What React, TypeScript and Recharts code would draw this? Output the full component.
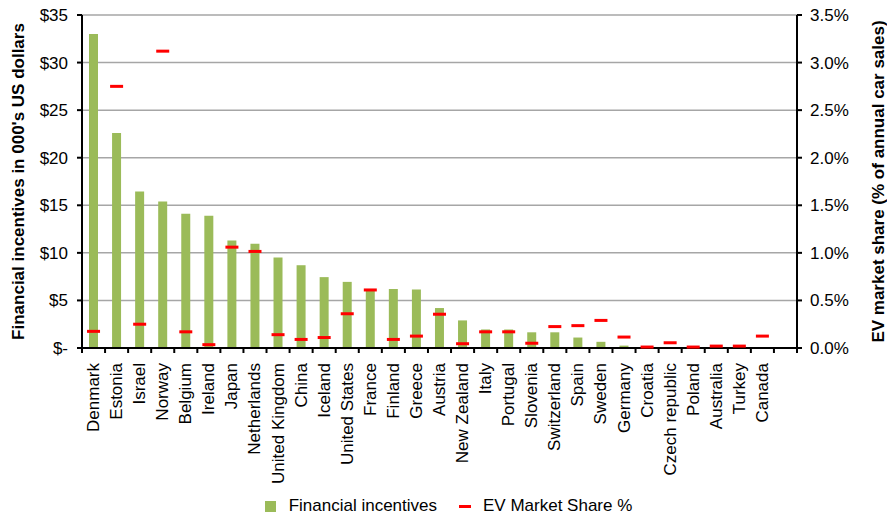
import {
  ComposedChart,
  Bar,
  Line,
  XAxis,
  YAxis,
  CartesianGrid,
  Legend,
} from 'recharts';

const countries = [
  'Denmark', 'Estonia', 'Israel', 'Norway', 'Belgium', 'Ireland', 'Japan',
  'Netherlands', 'United Kingdom', 'China', 'Iceland', 'United States', 'France',
  'Finland', 'Greece', 'Austria', 'New Zealand', 'Italy', 'Portugal', 'Slovenia',
  'Switzerland', 'Spain', 'Sweden', 'Germany', 'Croatia', 'Czech republic',
  'Poland', 'Australia', 'Turkey', 'Canada', '',
];

// thousands of US dollars
const incentives = [
  33.0, 22.6, 16.45, 15.4, 14.1, 13.9, 11.3, 10.95, 9.5, 8.7, 7.45, 6.95, 6.2,
  6.2, 6.15, 4.2, 2.9, 1.95, 1.95, 1.65, 1.65, 1.1, 0.65, 0.25, 0, 0, 0, 0, 0, 0,
  null,
];

// % of annual car sales
const evShare = [
  0.175, 2.75, 0.25, 3.12, 0.17, 0.035, 1.06, 1.015, 0.14, 0.09, 0.11, 0.36,
  0.61, 0.09, 0.125, 0.355, 0.045, 0.17, 0.17, 0.05, 0.225, 0.235, 0.29, 0.115,
  0.01, 0.055, 0.01, 0.02, 0.02, 0.125, null,
];

const leftTicks = [0, 5, 10, 15, 20, 25, 30, 35];
const rightTicks = [0, 0.5, 1, 1.5, 2, 2.5, 3, 3.5];

const data = countries.map((name, i) => ({
  name,
  fin: incentives[i],
  ev: evShare[i],
}));

const W = 887;
const H = 517;
const LEFT_W = 82;
const RIGHT_W = 90;
const SLOT = (W - LEFT_W - RIGHT_W) / countries.length;
const FONT = '"Liberation Sans", Arial, sans-serif';
const FS = 17;
const GREEN = '#9BBB59';
const RED = '#FF0000';

const CountryTick = (props: any) => {
  const { x, y, payload, index } = props;
  const axisY = y - 5;
  return (
    <g>
      <line x1={x - SLOT / 2} x2={x - SLOT / 2} y1={axisY} y2={axisY + 5} stroke="#000" strokeWidth={2} />
      {index === countries.length - 1 && (
        <line x1={x + SLOT / 2} x2={x + SLOT / 2} y1={axisY} y2={axisY + 5} stroke="#000" strokeWidth={2} />
      )}
      <text
        transform={`translate(${x},${axisY + 15}) rotate(-90)`}
        textAnchor="end"
        dominantBaseline="central"
        fontSize={FS}
        fill="#000"
      >
        {payload.value}
      </text>
    </g>
  );
};

const Dash = (props: any) => {
  const { cx, cy, payload } = props;
  if (payload.ev == null || cy == null) return null;
  return <rect x={cx - 6.5} y={cy - 1.5} width={13} height={3} fill={RED} />;
};

const LegendBox = () => (
  <div
    style={{
      display: 'flex',
      justifyContent: 'center',
      alignItems: 'center',
      height: 22,
      fontSize: FS,
      fontFamily: FONT,
      color: '#000',
      paddingLeft: 10,
    }}
  >
    <span style={{ width: 11, height: 11, background: GREEN, marginRight: 13 }} />
    <span style={{ marginRight: 22 }}>Financial incentives</span>
    <span style={{ width: 12, height: 3, background: RED, marginRight: 12 }} />
    <span>EV Market Share %</span>
  </div>
);

export default function App() {
  return (
    <div
      style={{
        position: 'absolute',
        left: 0,
        top: 0,
        width: W,
        height: H,
        background: '#fff',
        fontFamily: FONT,
      }}
    >
      <ComposedChart
        width={W}
        height={H}
        data={data}
        margin={{ top: 15, right: 0, bottom: 0, left: 0 }}
        style={{ fontFamily: FONT }}
      >
        <CartesianGrid yAxisId="left" vertical={false} stroke="#A6A6A6" strokeWidth={1.5} />
        <XAxis
          dataKey="name"
          interval={0}
          height={147}
          tickLine={false}
          tickSize={5}
          tickMargin={0}
          axisLine={{ stroke: '#000', strokeWidth: 2 }}
          tick={<CountryTick />}
        />
        <YAxis
          yAxisId="left"
          width={LEFT_W}
          domain={[0, 35]}
          ticks={leftTicks}
          tickFormatter={(v: number) => (v === 0 ? '$-' : `$${v}`)}
          tick={{ fontSize: FS, fill: '#000' }}
          tickSize={5}
          tickMargin={9}
          axisLine={{ stroke: '#000', strokeWidth: 2 }}
          tickLine={{ stroke: '#000', strokeWidth: 2 }}
          label={{
            value: "Financial incentives in 000's US dollars",
            angle: -90,
            position: 'insideLeft',
            offset: 18,
            style: { textAnchor: 'middle', fontSize: FS, fontWeight: 'bold', fill: '#000' },
          }}
        />
        <YAxis
          yAxisId="right"
          orientation="right"
          width={RIGHT_W}
          domain={[0, 3.5]}
          ticks={rightTicks}
          tickFormatter={(v: number) => `${v.toFixed(1)}%`}
          tick={{ fontSize: FS, fill: '#000' }}
          tickSize={5}
          tickMargin={8}
          axisLine={{ stroke: '#000', strokeWidth: 2 }}
          tickLine={{ stroke: '#000', strokeWidth: 2 }}
          label={{
            value: 'EV market share (% of annual car sales)',
            angle: -90,
            position: 'insideRight',
            offset: 9,
            style: { textAnchor: 'middle', fontSize: FS, fontWeight: 'bold', fill: '#000' },
          }}
        />
        <Legend verticalAlign="bottom" height={22} content={<LegendBox />} />
        <Bar
          yAxisId="left"
          dataKey="fin"
          name="Financial incentives"
          fill={GREEN}
          barSize={9}
          isAnimationActive={false}
        />
        <Line
          yAxisId="right"
          dataKey="ev"
          name="EV Market Share %"
          stroke="none"
          dot={<Dash />}
          activeDot={false}
          isAnimationActive={false}
        />
      </ComposedChart>
    </div>
  );
}
